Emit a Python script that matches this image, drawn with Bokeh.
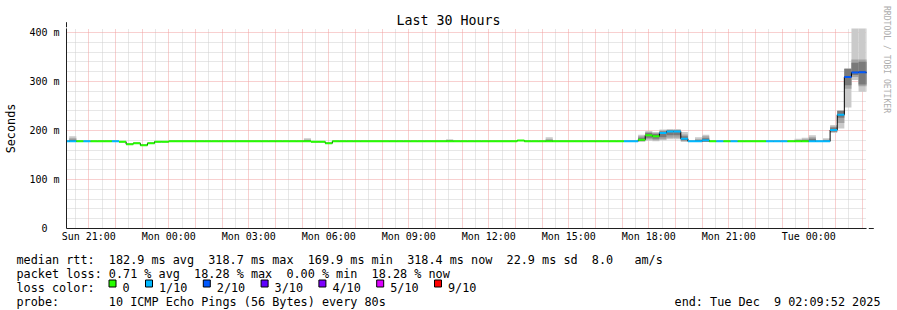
import math
from bokeh.plotting import figure
from bokeh.models import Range1d, FixedTicker, Arrow, NormalHead, Grid
from bokeh.layouts import row, column
from bokeh.core.properties import value
from bokeh.embed import file_html
from bokeh.resources import INLINE

# ---------------- data ----------------
BIN_MINUTES = 16            # consolidation step of the RRA (12 x 80 s)
FIRST_BIN = 75              # bins counted from Sun 7 Dec 2025 00:00
start_hour = 20 + 9 / 60 + 52 / 3600      # Sun 20:09:52 (hours since Sun 00:00)
end_hour = 48 + 2 + 9 / 60 + 52 / 3600    # Tue 02:09:52

median_ms = [
    178, 178, 178, 178, 178, 178, 178, 178, 177, 172,
    174, 169.9, 174, 177, 177, 178, 178, 178, 178, 178,
    178, 178, 178, 178, 178, 178, 178, 178, 178, 178,
    178, 178, 178, 178, 178, 177, 177, 174, 178, 178,
    178, 178, 178, 178, 178, 178, 178, 178, 178, 178,
    178, 178, 178, 178, 178, 178, 178, 178, 178, 178,
    178, 178, 178, 178, 179.5, 178, 178, 178, 178, 178,
    178, 178, 178, 178, 178, 178, 178, 178, 178, 178,
    178, 181, 190, 188, 195, 198, 198, 183, 178, 178,
    180, 178, 178, 178, 178, 178, 178, 178, 178, 178,
    178, 178, 178, 178, 178, 178, 178, 178, 201, 232,
    309, 318.4, 318.7, 318.4,
]
loss_count = [
    1, 1, 0, 1, 0, 0, 0, 1, 0, 0,
    0, 0, 0, 0, 0, 0, 0, 0, 0, 0,
    0, 0, 0, 0, 0, 0, 0, 0, 0, 0,
    0, 0, 0, 0, 0, 0, 0, 0, 0, 0,
    0, 0, 0, 0, 0, 0, 0, 0, 0, 0,
    0, 0, 0, 0, 0, 0, 0, 0, 0, 0,
    0, 0, 0, 0, 0, 0, 0, 0, 0, 0,
    0, 0, 0, 0, 0, 0, 0, 0, 0, 1,
    1, 0, 0, 0, 1, 1, 1, 1, 1, 1,
    1, 0, 1, 0, 1, 0, 0, 0, 0, 1,
    1, 1, 0, 0, 0, 1, 1, 1, 1, 1,
    2, 2, 2, 2,
]
smoke_bins     = [76, 109, 129, 143, 156, 157, 158, 159, 160, 161, 162, 164, 165, 178, 179, 180, 182, 183, 184, 185, 186, 187, 188]
smoke_outer_lo = [177, 177, 177, 177, 177, 179, 178, 180, 182, 182, 177, 177, 177, 177, 177, 177, 177, 195, 204, 247, 303, 279, 279]
smoke_outer_hi = [188, 184, 182, 186, 191, 199, 197, 202, 203, 203, 197, 186, 191, 183, 185, 190, 184, 211, 240, 326, 410, 410, 410]
smoke_mid_lo   = [177, 177, 177, 177, 178, 182, 180, 182, 185, 185, 178, 177, 177, 177, 177, 177, 177, 197, 215, 285, 309, 290, 290]
smoke_mid_hi   = [184, 181, 180, 182, 188, 197, 195, 200, 201, 201, 192, 182, 188, 180, 182, 186, 181, 208, 240, 326, 345, 345, 345]
smoke_in_lo    = [177, 177, 177, 177, 179, 185, 183, 186, 190, 190, 180, 177, 177, 177, 177, 177, 177, 198, 226, 292, 313, 294, 294]
smoke_in_hi    = [181, 179, 179, 180, 185, 195, 193, 198, 200, 200, 188, 180, 184, 179, 180, 183, 179, 206, 240, 326, 338, 340, 340]

loss_levels = [0, 1, 2, 3, 4, 5, 9]
loss_labels = ["0", "1/10", "2/10", "3/10", "4/10", "5/10", "9/10"]
loss_colors = ["#26ff00", "#00b8ff", "#0059ff", "#5e00ff", "#7e00ff", "#dd00ff", "#ff0000"]

x_tick_hours = [21, 24, 27, 30, 33, 36, 39, 42, 45, 48]
x_tick_labels = ["Sun 21:00", "Mon 00:00", "Mon 03:00", "Mon 06:00", "Mon 09:00",
                 "Mon 12:00", "Mon 15:00", "Mon 18:00", "Mon 21:00", "Tue 00:00"]
y_ticks = [0, 100, 200, 300, 400]
y_tick_labels = ["0  ", "100 m", "200 m", "300 m", "400 m"]
y_max = 408

title_text = "Last 30 Hours"
y_label = "Seconds"
legend_rows = [
    "median rtt:  182.9 ms avg  318.7 ms max  169.9 ms min  318.4 ms now  22.9 ms sd  8.0   am/s",
    "packet loss: 0.71 % avg  18.28 % max  0.00 % min  18.28 % now",
    "loss color:",
    "probe:       10 ICMP Echo Pings (56 Bytes) every 80s",
]
end_text = "end: Tue Dec  9 02:09:52 2025"
credit_text = "RRDTOOL / TOBI OETIKER"


def keep_spaces(s):
    # SVG collapses runs of spaces; use no-break spaces so the monospace columns hold
    return s.replace(" ", "\u00a0")


# ---------------- layout constants ----------------
W, H = 897, 310
MAIN_W, MAIN_H = 878, 246
LEFT, RIGHT, TOP, BOTTOM = 66, MAIN_W - 866, 28, MAIN_H - 228
MONO = "DejaVu Sans Mono"
FS = "11.8px"
CHAR_W = 7.1
AXIS_COL = "#1f1f1f"
ARROW_COL = "#801f1f"
GRID_MINOR = "#cfcfcf"
GRID_MAJOR = "#f0a0a0"

# ---------------- main plot ----------------
p = figure(width=MAIN_W, height=MAIN_H, output_backend="svg", toolbar_location=None,
           x_range=Range1d(start_hour, end_hour), y_range=Range1d(0, y_max),
           min_border_left=LEFT, min_border_right=RIGHT,
           min_border_top=TOP, min_border_bottom=BOTTOM, tools="")
p.background_fill_color = "white"
p.border_fill_color = "white"
p.outline_line_color = None
p.grid.visible = False

p.title.text = title_text
p.title.align = "left"
p.title.offset = 330
p.title.standoff = 2
p.title.vertical_align = "bottom"
p.title.text_font = MONO
p.title.text_font_size = "13.3px"
p.title.text_font_style = "normal"
p.title.text_color = "black"

# grids
hour_ticks = list(range(math.ceil(start_hour), int(end_hour) + 1))
half_ticks = [h + 0.5 for h in range(math.floor(start_hour), int(end_hour) + 1)]
p.add_layout(Grid(dimension=0, ticker=FixedTicker(ticks=half_ticks),
                  grid_line_color=GRID_MINOR, grid_line_dash="1 1"))
p.add_layout(Grid(dimension=1, ticker=FixedTicker(ticks=[v for v in range(20, y_max, 20) if v % 100]),
                  grid_line_color=GRID_MINOR, grid_line_dash="1 1"))
p.add_layout(Grid(dimension=0, ticker=FixedTicker(ticks=hour_ticks),
                  grid_line_color=GRID_MAJOR, grid_line_dash="1 1"))
p.add_layout(Grid(dimension=1, ticker=FixedTicker(ticks=y_ticks[1:]),
                  grid_line_color=GRID_MAJOR, grid_line_dash="1 1"))

# bins
bin_left = [(FIRST_BIN + i) * BIN_MINUTES / 60 for i in range(len(median_ms))]
bin_right = [b + BIN_MINUTES / 60 for b in bin_left]
sl = [b * BIN_MINUTES / 60 for b in smoke_bins]
sr = [x + BIN_MINUTES / 60 for x in sl]
p.quad(left=sl, right=sr, bottom=smoke_outer_lo, top=smoke_outer_hi,
       fill_color="#cacaca", line_color=None)
p.quad(left=sl, right=sr, bottom=smoke_mid_lo, top=smoke_mid_hi,
       fill_color="#a4a4a4", line_color=None)
p.quad(left=sl, right=sr, bottom=smoke_in_lo, top=smoke_in_hi,
       fill_color="#7a7a7a", line_color=None)

# black median step line
p.step(x=bin_left + [bin_right[-1]], y=median_ms + [median_ms[-1]], mode="after",
       line_color="black", line_width=1)

# loss-coloured median segments
col_of = {lv: c for lv, c in zip(loss_levels, loss_colors)}
seg_colors = [col_of[l] for l in loss_count]
p.segment(x0=bin_left, x1=bin_right, y0=median_ms, y1=median_ms,
          line_color=seg_colors, line_width=2, line_cap="butt")

# axes
for ax in (p.xaxis[0], p.yaxis[0]):
    ax.major_tick_line_color = None
    ax.minor_tick_line_color = None
    ax.major_tick_out = 0
    ax.major_tick_in = 0
    ax.minor_tick_out = 0
    ax.minor_tick_in = 0
    ax.axis_line_color = AXIS_COL
    ax.major_label_text_font = MONO
    ax.major_label_text_font_size = "10px"
    ax.major_label_text_color = "black"
p.xaxis[0].ticker = FixedTicker(ticks=x_tick_hours)
p.xaxis[0].major_label_overrides = dict(zip(x_tick_hours, x_tick_labels))
p.xaxis[0].major_label_standoff = 2
p.yaxis[0].ticker = FixedTicker(ticks=y_ticks)
p.yaxis[0].major_label_overrides = {t: keep_spaces(s) for t, s in zip(y_ticks, y_tick_labels)}
p.yaxis[0].major_label_standoff = 7
p.yaxis[0].axis_label = y_label
p.yaxis[0].axis_label_text_font = MONO
p.yaxis[0].axis_label_text_font_size = FS
p.yaxis[0].axis_label_text_font_style = "normal"
p.yaxis[0].axis_label_text_color = "black"
p.yaxis[0].axis_label_standoff = 8

# axis arrows
px_per_h = 800 / (end_hour - start_hour)
px_per_ms = 200 / y_max
p.add_layout(Arrow(x_start=start_hour, y_start=y_max, x_end=start_hour, y_end=y_max + 6.3 / px_per_ms,
                   line_color=AXIS_COL, line_width=1,
                   end=NormalHead(size=5, fill_color=ARROW_COL, line_color=ARROW_COL, line_width=1)))
p.add_layout(Arrow(x_start=end_hour, y_start=0, x_end=end_hour + 7.3 / px_per_h, y_end=0,
                   line_color=AXIS_COL, line_width=1,
                   end=NormalHead(size=5, fill_color=ARROW_COL, line_color=ARROW_COL, line_width=1)))

# ---------------- credit strip (right) ----------------
cr = figure(width=W - MAIN_W, height=MAIN_H, output_backend="svg", toolbar_location=None,
            x_range=Range1d(MAIN_W, W), y_range=Range1d(MAIN_H, 0), tools="",
            x_axis_type=None, y_axis_type=None, min_border=0, title_location=None)
cr.outline_line_color = None
cr.grid.visible = False
cr.background_fill_color = "white"
cr.border_fill_color = "white"
cr.text(x=[886], y=[59], text=[keep_spaces(credit_text)], angle=-math.pi / 2,
        text_font=value(MONO), text_font_size=value("8.1px"), text_align="center",
        text_baseline="middle", text_color="#adadad")

# ---------------- legend strip (bottom) ----------------
lg = figure(width=W, height=H - MAIN_H, output_backend="svg", toolbar_location=None,
            x_range=Range1d(0, W), y_range=Range1d(H, MAIN_H), tools="",
            x_axis_type=None, y_axis_type=None, min_border=0, title_location=None)
lg.outline_line_color = None
lg.grid.visible = False
lg.background_fill_color = "white"
lg.border_fill_color = "white"
row_base = [259 + 14 * i for i in range(len(legend_rows))]
lg.text(x=[16] * len(legend_rows), y=row_base, text=[keep_spaces(r) for r in legend_rows],
        text_font=value(MONO), text_font_size=value(FS), text_align="left",
        text_baseline="alphabetic", text_color="black")
lg.text(x=[880], y=[row_base[3]], text=[keep_spaces(end_text)],
        text_font=value(MONO), text_font_size=value(FS), text_align="right",
        text_baseline="alphabetic", text_color="black")

sq_x = []
xx = 108
for lab in loss_labels:
    sq_x.append(xx)
    xx += 16 + CHAR_W * len(lab) + 13.4
lg.quad(left=[x + 0.5 for x in sq_x], right=[x + 7.5 for x in sq_x],
        top=[row_base[2] - 7.5] * len(sq_x), bottom=[row_base[2] - 0.5] * len(sq_x),
        fill_color=loss_colors, line_color="black", line_width=1)
lg.text(x=[x + 14 for x in sq_x], y=[row_base[2]] * len(sq_x), text=loss_labels,
        text_font=value(MONO), text_font_size=value(FS), text_align="left",
        text_baseline="alphabetic", text_color="black")

layout = column(row(p, column(cr)), lg)
open("out.html", "w").write(file_html(layout, INLINE))
